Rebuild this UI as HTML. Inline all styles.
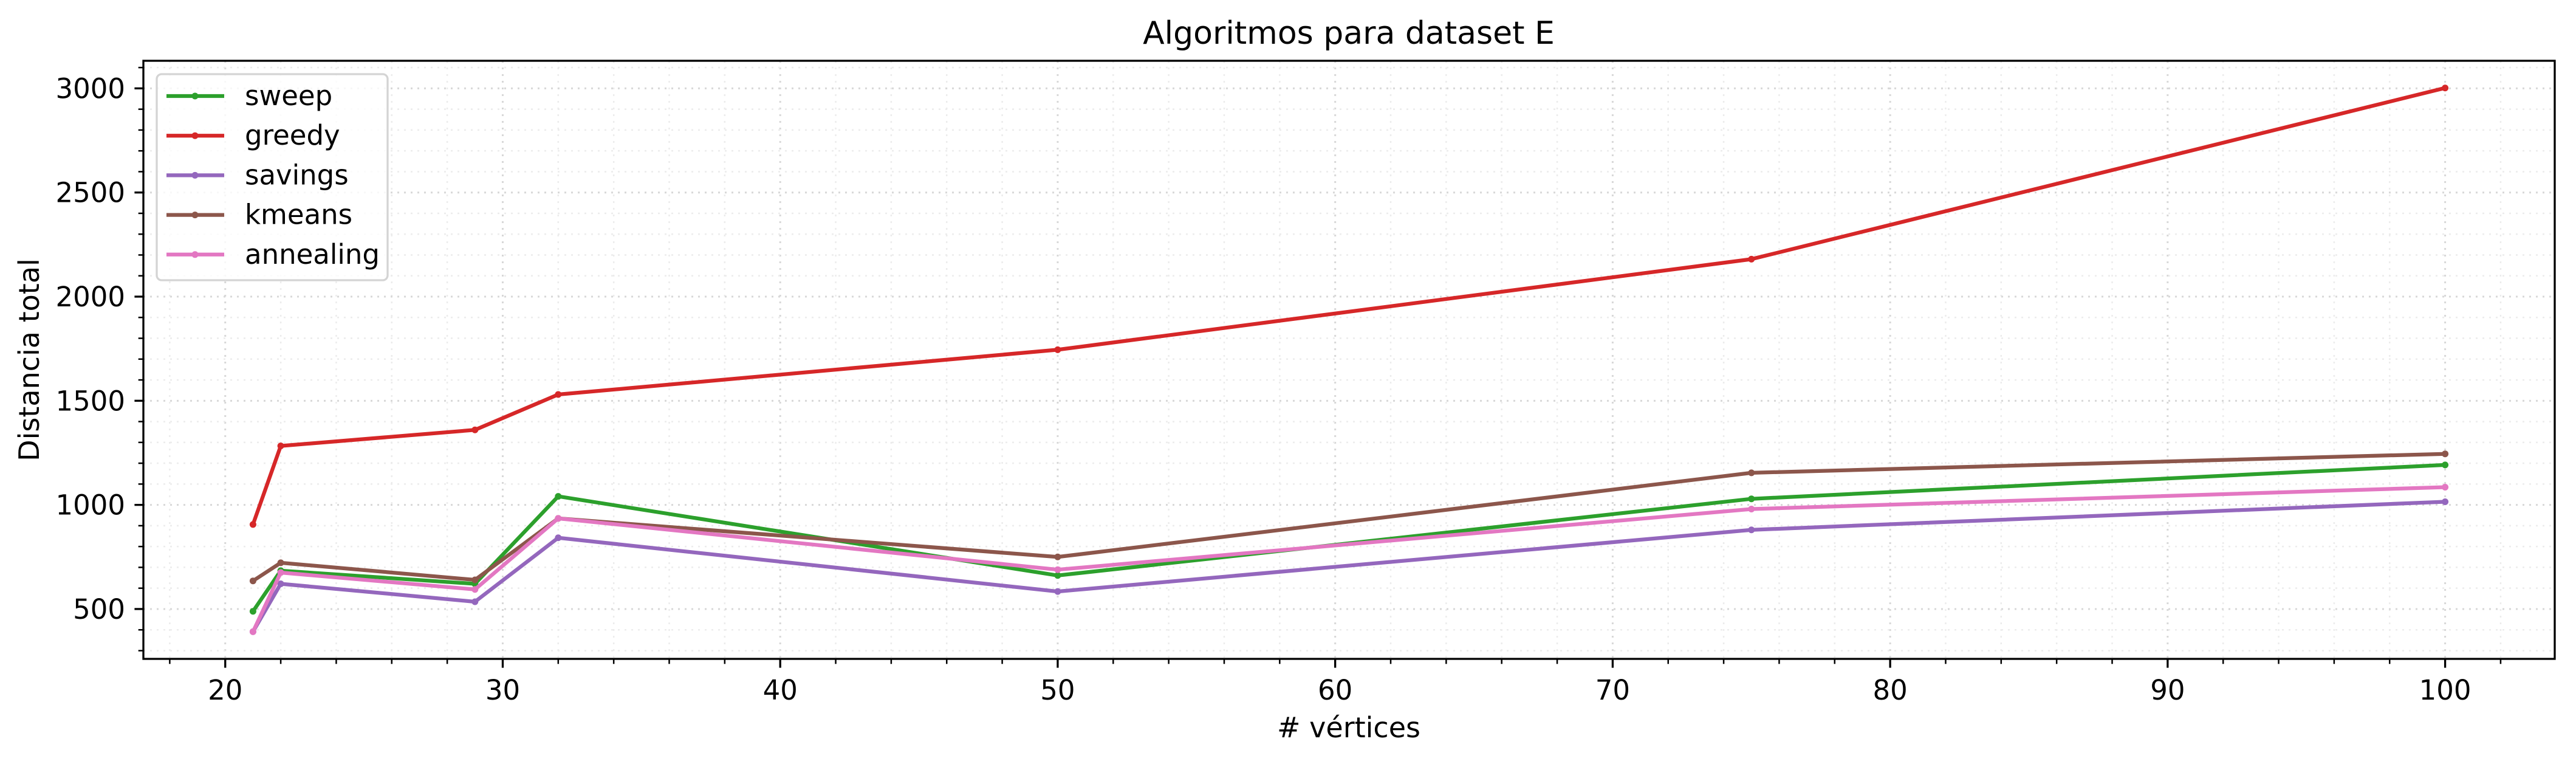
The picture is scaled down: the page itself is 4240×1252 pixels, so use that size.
<!DOCTYPE html>
<html><head><meta charset="utf-8"><style>
html,body{margin:0;padding:0;background:#fff}
svg{display:block;font-family:"DejaVu Sans","Liberation Sans",sans-serif}
</style></head><body>
<svg id="chart" width="4240" height="1252" viewBox="0 0 4240 1252" xmlns="http://www.w3.org/2000/svg">
<rect width="4240" height="1252" fill="#fff"/>
<g id="grid"></g>
<g id="series"></g>
<rect x="236" y="100" width="3969" height="984" fill="none" stroke="#000" stroke-width="3.3"/>
<g id="ticks"></g>
<text x="2220" y="72" font-size="52" text-anchor="middle">Algoritmos para dataset E</text>
<text x="2220" y="1213" font-size="46" text-anchor="middle"># vértices</text>
<text transform="translate(64,592) rotate(-90)" font-size="46" text-anchor="middle">Distancia total</text>
<g id="legend"></g>
</svg>
<script>
const xValues = [21, 22, 29, 32, 50, 75, 100];
const seriesNames = ["sweep", "greedy", "savings", "kmeans", "annealing"];
const sweepValues = [489, 684, 621, 1041, 661, 1029, 1192];
const greedyValues = [906, 1283, 1360, 1530, 1745, 2180, 3002];
const savingsValues = [391, 621, 535, 842, 584, 880, 1015];
const kmeansValues = [635, 722, 640, 935, 750, 1154, 1245];
const annealingValues = [391, 675, 594, 935, 689, 980, 1085];
const xTickLabels = ["20", "30", "40", "50", "60", "70", "80", "90", "100"];
const yTickLabels = ["500", "1000", "1500", "2000", "2500", "3000"];

const colors = ["#2ca02c", "#d62728", "#9467bd", "#8c564b", "#e377c2"];
const allSeries = [sweepValues, greedyValues, savingsValues, kmeansValues, annealingValues];
const NS = "http://www.w3.org/2000/svg";
const L = 236, R = 4205, T = 100, B = 1084;
const xMin = 17.05, xMax = 103.95, yMin = 260.5, yMax = 3132.5;
function xs(v){ return L + (v - xMin) / (xMax - xMin) * (R - L); }
function ys(v){ return B - (v - yMin) / (yMax - yMin) * (B - T); }
function mk(tag, attrs, parent){ const e = document.createElementNS(NS, tag); for (const k in attrs) e.setAttribute(k, attrs[k]); parent.appendChild(e); return e; }

const grid = document.getElementById("grid");
const ticks = document.getElementById("ticks");
// minor/major grid x
for (let v = 18; v <= 102; v += 2) {
  const major = v % 10 === 0;
  const g = mk("line", {x1: xs(v), x2: xs(v), y1: T, y2: B, stroke: major ? "#d8d8d8" : "#ececec", "stroke-width": major ? 3 : 2.5, "stroke-dasharray": "3,8"}, grid);
  
  
  const t = mk("line", {x1: xs(v), x2: xs(v), y1: B, y2: B + (major ? 14.6 : 8.3), stroke: "#000", "stroke-width": major ? 3.3 : 2.5}, ticks);
  
  
}
for (let v = 300; v <= 3100; v += 100) {
  const major = v % 500 === 0;
  const g = mk("line", {x1: L, x2: R, y1: ys(v), y2: ys(v), stroke: major ? "#d8d8d8" : "#ececec", "stroke-width": major ? 3 : 2.5, "stroke-dasharray": "3,8"}, grid);
  
  
  const t = mk("line", {x1: L - (major ? 14.6 : 8.3), x2: L, y1: ys(v), y2: ys(v), stroke: "#000", "stroke-width": major ? 3.3 : 2.5}, ticks);
  
  
}
xTickLabels.forEach(s => {
  const t = mk("text", {x: xs(+s), y: 1151, "font-size": 45, "text-anchor": "middle"}, ticks);
  t.textContent = s;
  
  
});
yTickLabels.forEach(s => {
  const t = mk("text", {x: 206, y: ys(+s) + 16, "font-size": 45, "text-anchor": "end"}, ticks);
  t.textContent = s;
  
  
});

const sg = document.getElementById("series");
allSeries.forEach((vals, i) => {
  const pts = vals.map((v, j) => xs(xValues[j]) + "," + ys(v)).join(" ");
  const pl = mk("polyline", {points: pts, fill: "none", stroke: colors[i], "stroke-width": 6.25, "stroke-linejoin": "round", "stroke-linecap": "round"}, sg);
  
  
  vals.forEach((v, j) => {
    const c = mk("circle", {cx: xs(xValues[j]), cy: ys(v), r: 5.5, fill: colors[i]}, sg);
    
    
  });
});

const lg = document.getElementById("legend");
const box = mk("rect", {x: 258, y: 122, width: 380, height: 339, rx: 8, fill: "#fff", "fill-opacity": 0.8, stroke: "#d4d4d4", "stroke-width": 3.3}, lg);


seriesNames.forEach((n, i) => {
  const y = 158 + i * 65.2;
  const l = mk("line", {x1: 274, x2: 369, y1: y, y2: y, stroke: colors[i], "stroke-width": 6.25}, lg);
  
  
  const c = mk("circle", {cx: 321, cy: y, r: 5.5, fill: colors[i]}, lg);
  
  
  const t = mk("text", {x: 403, y: y + 15, "font-size": 45}, lg);
  t.textContent = n;
  
  
});
</script>
</body></html>
